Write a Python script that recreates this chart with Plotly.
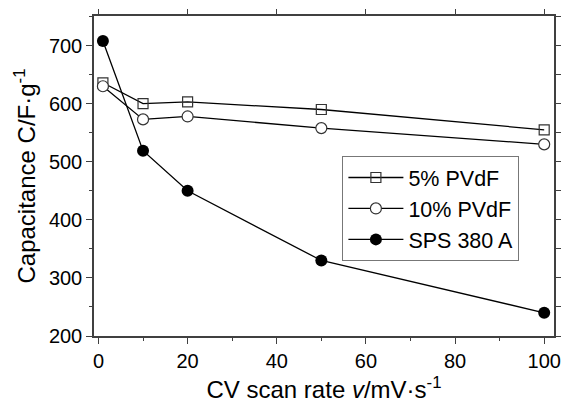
import plotly.graph_objects as go

scan_rate = [1, 10, 20, 50, 100]
pvdf5 = [636, 600, 603, 590, 555]
pvdf10 = [630, 573, 578, 558, 530]
sps380 = [708, 519, 450, 330, 240]

series_names = ["5% PVdF", "10% PVdF", "SPS 380 A"]

FONT = "Liberation Sans, Arial, sans-serif"
AX = "#404040"

fig = go.Figure()
fig.add_trace(go.Scatter(x=scan_rate, y=pvdf5, name=series_names[0], mode="lines+markers",
                         line=dict(color="black", width=1.3),
                         marker=dict(symbol="square-open", size=10, color="#333", line=dict(width=1.2))))
fig.add_trace(go.Scatter(x=scan_rate, y=pvdf10, name=series_names[1], mode="lines+markers",
                         line=dict(color="black", width=1.3),
                         marker=dict(symbol="circle", size=11, color="white", line=dict(width=1.2, color="#333"))))
fig.add_trace(go.Scatter(x=scan_rate, y=sps380, name=series_names[2], mode="lines+markers",
                         line=dict(color="black", width=1.3),
                         marker=dict(symbol="circle", size=12, color="black")))
# invisible traces to activate the mirror axes
fig.add_trace(go.Scatter(x=[None], y=[None], xaxis="x2", yaxis="y2", showlegend=False, hoverinfo="skip"))

xr = [-1.0, 102.2]
yr = [200, 751]

fig.update_layout(
    width=564, height=403,
    margin=dict(l=94, r=10, t=16, b=67, autoexpand=False),
    paper_bgcolor="white", plot_bgcolor="white",
    font=dict(family=FONT, size=20, color="black"),
    showlegend=True,
    xaxis=dict(range=xr, tickvals=[0, 20, 40, 60, 80, 100], ticks="outside", ticklen=6,
               tickwidth=1.3, tickcolor=AX, showline=True, linecolor=AX, linewidth=1.5,
               showgrid=False, zeroline=False, tickfont=dict(size=20), automargin=False,
               minor=dict(tickvals=[10, 30, 50, 70, 90], ticks="outside", ticklen=3, tickcolor=AX, tickwidth=1.2),
               title=dict(text="CV scan rate <i>v</i>/mV·s<sup>-1</sup>", font=dict(size=24), standoff=15)),
    yaxis=dict(range=yr, tickvals=[200, 300, 400, 500, 600, 700], ticks="outside", ticklen=6,
               tickwidth=1.3, tickcolor=AX, showline=True, linecolor=AX, linewidth=1.5,
               showgrid=False, zeroline=False, tickfont=dict(size=20), automargin=False,
               minor=dict(tickvals=[250, 350, 450, 550, 650, 750], ticks="outside", ticklen=3, tickcolor=AX, tickwidth=1.2),
               title=dict(text="Capacitance C/F·g<sup>-1</sup>", font=dict(size=24), standoff=6)),
    xaxis2=dict(range=xr, overlaying="x", side="top", tickvals=[0, 20, 40, 60, 80, 100],
                ticks="outside", ticklen=5, tickwidth=1.3, tickcolor=AX, showticklabels=False,
                showline=True, linecolor=AX, linewidth=1.5, showgrid=False, zeroline=False, automargin=False),
    yaxis2=dict(range=yr, overlaying="y", side="right",
                tickvals=[200, 250, 300, 350, 400, 450, 500, 550, 600, 650, 700, 750],
                ticks="outside", ticklen=5, tickwidth=1.3, tickcolor=AX, showticklabels=False,
                showline=True, linecolor=AX, linewidth=1.5, showgrid=False, zeroline=False, automargin=False),
    legend=dict(x=0.54, y=0.5625, xanchor="left", yanchor="top",
                bordercolor="#777", borderwidth=1, bgcolor="white", itemwidth=55,
                font=dict(size=21.5, family=FONT), tracegroupgap=0),
)

fig.write_html("out.html")
